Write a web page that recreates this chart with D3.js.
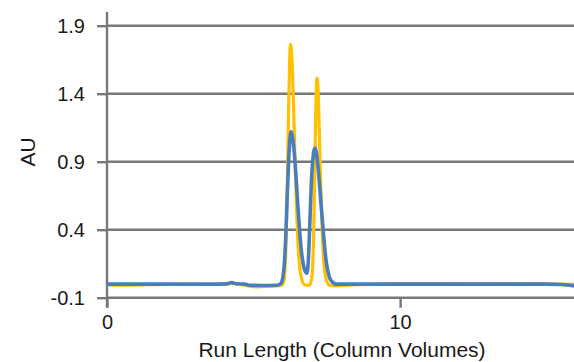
<!DOCTYPE html>
<html>
<head>
<meta charset="utf-8">
<script src="https://cdn.jsdelivr.net/npm/d3@7"></script>
<style>
  body { margin: 0; background: #fff; }
  text { font-family: "Liberation Sans", Arial, sans-serif; fill: #1a1a1a; }
</style>
</head>
<body>
<svg id="chart" width="574" height="362"></svg>
<script>
// run length (CV), absorbance (AU)
const yellowSeries = [
  [0, -0.006], [0.5, -0.008], [1.5, -0.004], [2.5, -0.002], [3.5, -0.003],
  [4.1, 0.0], [4.3, 0.006], [4.5, 0.0], [4.85, -0.015], [5.1, -0.02],
  [5.5, -0.016], [5.9, -0.012], [6.0, 0.0], [6.05, 0.04], [6.1, 0.24],
  [6.15, 0.72], [6.2, 1.34], [6.23, 1.63], [6.26, 1.765], [6.29, 1.73],
  [6.33, 1.55], [6.37, 1.27], [6.41, 0.95], [6.45, 0.66], [6.5, 0.37],
  [6.55, 0.18], [6.6, 0.08], [6.65, 0.03], [6.7, 0.005], [6.8, -0.01],
  [6.9, -0.008], [6.95, 0.01], [7.0, 0.07], [7.04, 0.28], [7.08, 0.7],
  [7.12, 1.25], [7.16, 1.515], [7.2, 1.43], [7.24, 1.15], [7.28, 0.82],
  [7.32, 0.52], [7.36, 0.3], [7.41, 0.13], [7.46, 0.05], [7.52, 0.01],
  [7.6, -0.01], [7.8, -0.012], [8.2, -0.008], [8.6, -0.004], [9.5, 0.0],
  [11, 0.002], [12.5, 0.0], [14, 0.003], [15.5, 0.0], [16, -0.002]
];

const blueSeries = [
  [0, 0.0], [0.5, 0.0], [1.5, 0.0], [2.5, 0.0], [3.5, 0.0],
  [4.1, 0.002], [4.25, 0.012], [4.4, 0.002], [4.7, 0.0], [4.85, -0.008],
  [5.3, -0.01], [5.8, -0.008], [5.9, 0.0], [5.95, 0.01], [6.0, 0.05],
  [6.05, 0.15], [6.1, 0.36], [6.15, 0.66], [6.2, 0.92], [6.25, 1.09],
  [6.28, 1.12], [6.32, 1.09], [6.37, 1.01], [6.42, 0.88], [6.47, 0.72],
  [6.52, 0.55], [6.57, 0.4], [6.62, 0.27], [6.67, 0.18], [6.72, 0.12],
  [6.77, 0.09], [6.82, 0.08], [6.87, 0.18], [6.92, 0.45], [6.97, 0.74],
  [7.02, 0.91], [7.07, 0.99], [7.1, 1.0], [7.14, 0.97], [7.19, 0.88],
  [7.24, 0.76], [7.29, 0.62], [7.34, 0.49], [7.39, 0.36], [7.44, 0.24],
  [7.49, 0.15], [7.54, 0.09], [7.59, 0.05], [7.65, 0.025], [7.72, 0.01],
  [7.8, 0.0], [8.0, 0.0], [9.0, 0.0], [10.5, 0.0], [12.0, 0.0],
  [13.5, 0.0], [15.0, 0.0], [15.5, -0.003], [16, -0.015]
];

const yTicks = [-0.1, 0.4, 0.9, 1.4, 1.9];
const xTicks = [0, 10];

const svg = d3.select('#chart');
const gridColor = '#787878';

const x = d3.scaleLinear().domain([0, 16]).range([107, 576]);
const y = d3.scaleLinear().domain([-0.1, 2.0]).range([297.7, 12.1]);

// horizontal gridlines
svg.append('g')
  .selectAll('line')
  .data(yTicks)
  .enter().append('line')
  .attr('x1', x(0)).attr('x2', 576)
  .attr('y1', d => y(d)).attr('y2', d => y(d))
  .attr('stroke', gridColor)
  .attr('stroke-width', 2.4);

// y axis
const yAxis = svg.append('g')
  .attr('transform', `translate(${x(0)},0)`)
  .call(d3.axisLeft(y).tickValues(yTicks).tickSize(10).tickPadding(12)
    .tickFormat(d => d.toFixed(1)).tickSizeOuter(0));
yAxis.select('.domain').remove();
yAxis.selectAll('line').attr('stroke', gridColor).attr('stroke-width', 2.4);
yAxis.selectAll('text').style('font-size', '20px');

svg.append('line')
  .attr('x1', x(0)).attr('x2', x(0))
  .attr('y1', y(2.0)).attr('y2', y(-0.1) + 10)
  .attr('stroke', gridColor)
  .attr('stroke-width', 2.4);

// x axis
const xAxis = svg.append('g')
  .attr('transform', `translate(0,${y(-0.1)})`)
  .call(d3.axisBottom(x).tickValues(xTicks).tickSize(10).tickPadding(7).tickSizeOuter(0));
xAxis.select('.domain').remove();
xAxis.selectAll('line').attr('stroke', gridColor).attr('stroke-width', 2.4);
xAxis.selectAll('text').style('font-size', '20px');

// series
const line = d3.line()
  .x(d => x(d[0]))
  .y(d => y(d[1]))
  .curve(d3.curveMonotoneX);

svg.append('path')
  .datum(yellowSeries)
  .attr('fill', 'none')
  .attr('stroke', '#FFC000')
  .attr('stroke-width', 3.2)
  .attr('stroke-linejoin', 'round')
  .attr('d', line);

svg.append('path')
  .datum(blueSeries)
  .attr('fill', 'none')
  .attr('stroke', '#4A7EBB')
  .attr('stroke-width', 3.6)
  .attr('stroke-linejoin', 'round')
  .attr('d', line);

// axis titles
svg.append('text')
  .attr('x', 342)
  .attr('y', 357)
  .attr('text-anchor', 'middle')
  .style('font-size', '21px')
  .text('Run Length (Column Volumes)');

svg.append('text')
  .attr('transform', 'translate(35,152) rotate(-90)')
  .attr('text-anchor', 'middle')
  .style('font-size', '21px')
  .text('AU');
</script>
</body>
</html>
